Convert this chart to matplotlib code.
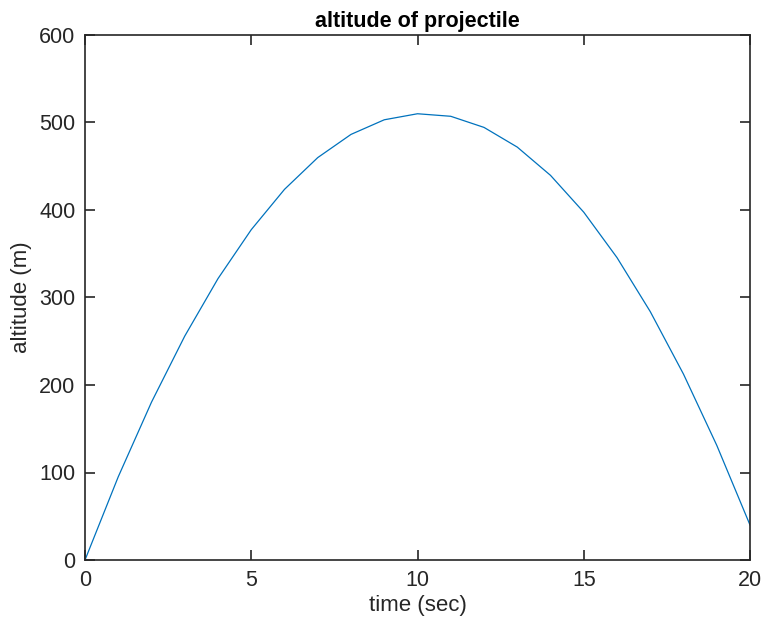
import numpy as np
from matplotlib import pyplot as plt

plt.rcParams['font.family'] = ['Liberation Sans', 'DejaVu Sans']

# time (s) and altitude (m)
t = [0, 1, 2, 3, 4, 5, 6, 7, 8, 9, 10, 11, 12, 13, 14, 15, 16, 17, 18, 19, 20]
altitude = [0, 95.1, 180.4, 255.9, 321.6, 377.5, 423.6, 459.9, 486.4, 503.1, 510.0,
            507.1, 494.4, 471.9, 439.6, 397.5, 345.6, 283.9, 212.4, 131.1, 40.0]
xticks = [0, 5, 10, 15, 20]
yticks = [0, 100, 200, 300, 400, 500, 600]

txt = '#262626'

fig = plt.figure(figsize=(7.7, 6.25), dpi=100)
ax = fig.add_axes([85/770, 65/625, 665/770, 525/625])

ax.plot(t, altitude, color='#0072BD', linewidth=0.9)

ax.set_xlim(0, 20)
ax.set_ylim(0, 600)
ax.set_xticks(xticks)
ax.set_yticks(yticks)
ax.tick_params(direction='in', top=True, right=True, length=7, width=1.2,
               labelsize=15.5, colors='#262626', labelcolor=txt, pad=7)
for s in ax.spines.values():
    s.set_linewidth(1.2)
    s.set_color('#262626')

ax.set_xlabel('time (sec)', fontsize=16, color=txt, labelpad=3)
ax.set_ylabel('altitude (m)', fontsize=16, color=txt, labelpad=5)
ax.set_title('altitude of projectile', fontsize=15.5, fontweight='bold', color='black', pad=6)

plt.savefig('out.png', dpi=100)
